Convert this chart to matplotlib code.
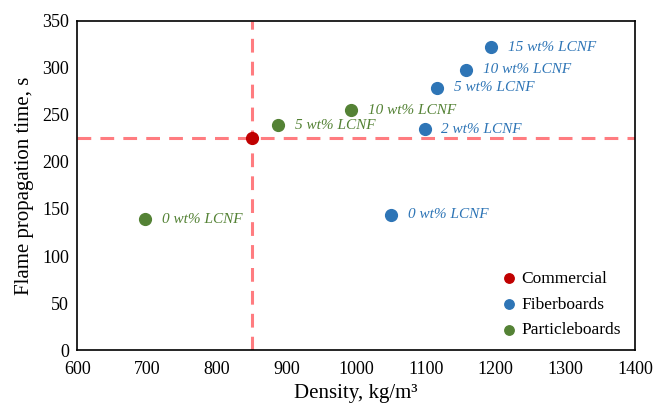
import matplotlib.pyplot as plt

# Daten
commercial_x = [850]
commercial_y = [225]

fiber_x = [1050, 1098, 1116, 1158, 1194]
fiber_y = [144, 235, 279, 298, 322]
fiber_labels = ["0 wt% LCNF", "2 wt% LCNF", "5 wt% LCNF", "10 wt% LCNF", "15 wt% LCNF"]

particle_x = [697, 888, 993]
particle_y = [139, 239, 255]
particle_labels = ["0 wt% LCNF", "5 wt% LCNF", "10 wt% LCNF"]

x_ticks = [600, 700, 800, 900, 1000, 1100, 1200, 1300, 1400]
y_ticks = [0, 50, 100, 150, 200, 250, 300, 350]

c_red = "#C00000"
c_blue = "#2E75B6"
c_green = "#548235"
c_dash = "#FF7C80"

plt.rcParams['font.family'] = ['Liberation Serif', 'DejaVu Serif']

fig = plt.figure(figsize=(6.56, 4.09), dpi=100)
ax = fig.add_axes([0.118, 0.144, 0.850, 0.805])

# Referenzlinien (kommerzielle Platte)
ax.axhline(commercial_y[0], color=c_dash, lw=2.2, dashes=(4.5, 3), zorder=1)
ax.axvline(commercial_x[0], color=c_dash, lw=2.2, dashes=(4.5, 3), zorder=1)

ax.scatter(commercial_x, commercial_y, s=72, color=c_red, zorder=3, label="Commercial")
ax.scatter(fiber_x, fiber_y, s=72, color=c_blue, zorder=3, label="Fiberboards")
ax.scatter(particle_x, particle_y, s=72, color=c_green, zorder=3, label="Particleboards")

for x, y, t in zip(fiber_x, fiber_y, fiber_labels):
    ax.annotate(t, (x, y), xytext=(12, 0), textcoords='offset points',
                va='center', ha='left', fontsize=11, style='italic', color=c_blue)
for x, y, t in zip(particle_x, particle_y, particle_labels):
    ax.annotate(t, (x, y), xytext=(12, 0), textcoords='offset points',
                va='center', ha='left', fontsize=11, style='italic', color=c_green)

ax.set_xlim(600, 1400)
ax.set_ylim(0, 350)
ax.set_xticks(x_ticks)
ax.set_yticks(y_ticks)
ax.tick_params(axis='x', length=0, labelsize=13, pad=8)
ax.tick_params(axis='y', length=0, labelsize=13, pad=6)
for sp in ax.spines.values():
    sp.set_linewidth(1.2)

ax.set_xlabel("Density, kg/m³", fontsize=15, labelpad=4)
ax.set_ylabel("Flame propagation time, s", fontsize=15, labelpad=6)

ax.legend(loc='lower left', bbox_to_anchor=(0.715, -0.012), frameon=False, fontsize=12.5,
          handletextpad=-0.3, labelspacing=0.55, markerscale=0.8)

fig.savefig("out.png", dpi=100)
